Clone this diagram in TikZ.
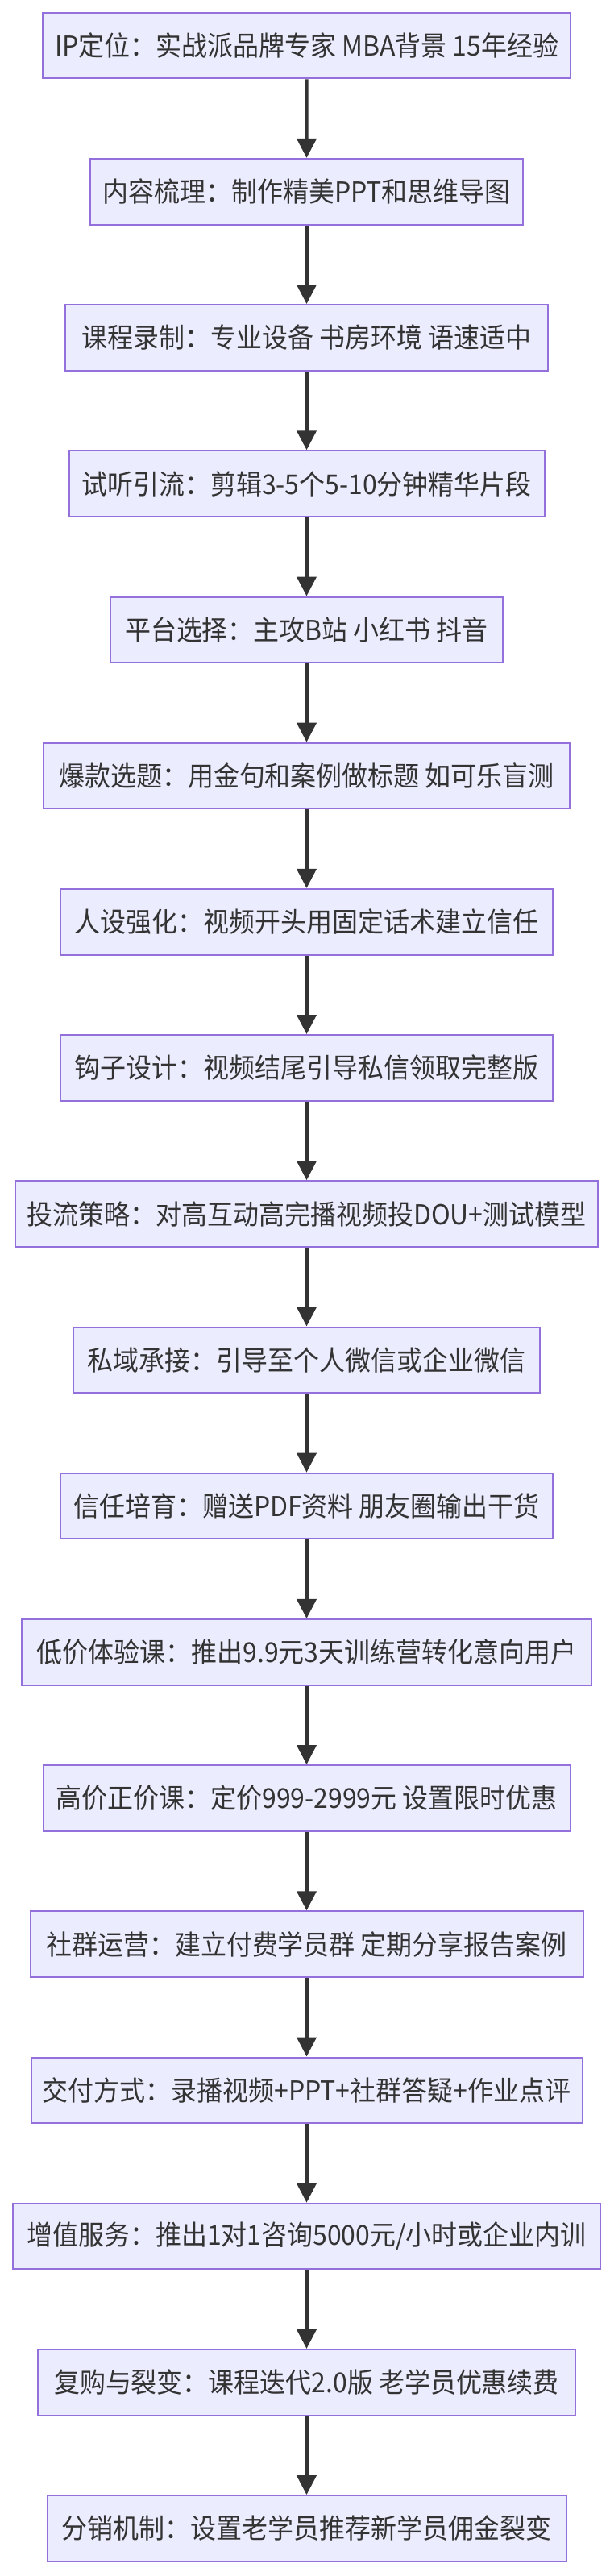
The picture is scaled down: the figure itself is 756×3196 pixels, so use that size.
\documentclass[tikz,border=0pt]{standalone}
\usepackage{fontspec}
\newfontfamily\cjk[FakeStretch=0.94]{Noto Sans CJK SC}
\usetikzlibrary{arrows.meta}
\definecolor{boxfill}{HTML}{ECECFF}
\definecolor{boxline}{HTML}{9370DB}
\definecolor{ink}{HTML}{333333}
\tikzset{
  stepbox/.style={draw=boxline, fill=boxfill, line width=2pt, inner sep=0pt,
    minimum height=81.6pt, text=ink, font=\cjk\fontsize{34}{40}\selectfont, align=center},
  flow/.style={draw=ink, line width=4pt, -{Triangle[length=24pt,width=24pt]}}
}
\begin{document}
\begin{tikzpicture}[x=1pt,y=-1pt]
\useasboundingbox (0,0) rectangle (756,3196);
\node[stepbox, minimum width=655pt] (b1) at (380.7,56.5) {IP定位：实战派品牌专家 MBA背景 15年经验};
\node[stepbox, minimum width=537pt] (b2) at (380.5,237.7) {内容梳理：制作精美PPT和思维导图};
\node[stepbox, minimum width=599pt] (b3) at (380.5,418.9) {课程录制：专业设备 书房环境 语速适中};
\node[stepbox, minimum width=590pt] (b4) at (380.5,600.1) {试听引流：剪辑3-5个5-10分钟精华片段};
\node[stepbox, minimum width=487pt] (b5) at (380.5,781.3) {平台选择：主攻B站 小红书 抖音};
\node[stepbox, minimum width=653pt] (b6) at (380.5,962.5) {爆款选题：用金句和案例做标题 如可乐盲测};
\node[stepbox, minimum width=611pt] (b7) at (380.5,1143.7) {人设强化：视频开头用固定话术建立信任};
\node[stepbox, minimum width=611pt] (b8) at (380.5,1324.9) {钩子设计：视频结尾引导私信领取完整版};
\node[stepbox, minimum width=723pt] (b9) at (380.5,1506.1) {投流策略：对高互动高完播视频投DOU+测试模型};
\node[stepbox, minimum width=579pt] (b10) at (380.5,1687.3) {私域承接：引导至个人微信或企业微信};
\node[stepbox, minimum width=611pt] (b11) at (380.5,1868.5) {信任培育：赠送PDF资料 朋友圈输出干货};
\node[stepbox, minimum width=707pt] (b12) at (380.5,2049.7) {低价体验课：推出9.9元3天训练营转化意向用户};
\node[stepbox, minimum width=654pt] (b13) at (380.5,2230.9) {高价正价课：定价999-2999元 设置限时优惠};
\node[stepbox, minimum width=686pt] (b14) at (380.5,2412.1) {社群运营：建立付费学员群 定期分享报告案例};
\node[stepbox, minimum width=684pt] (b15) at (380.5,2593.3) {交付方式：录播视频+PPT+社群答疑+作业点评};
\node[stepbox, minimum width=729pt] (b16) at (380.5,2774.5) {增值服务：推出1对1咨询5000元/小时或企业内训};
\node[stepbox, minimum width=667pt] (b17) at (380.5,2955.7) {复购与裂变：课程迭代2.0版 老学员优惠续费};
\node[stepbox, minimum width=644pt] (b18) at (380.5,3136.9) {分销机制：设置老学员推荐新学员佣金裂变};
\foreach \a/\b in {b1/b2,b2/b3,b3/b4,b4/b5,b5/b6,b6/b7,b7/b8,b8/b9,b9/b10,b10/b11,b11/b12,b12/b13,b13/b14,b14/b15,b15/b16,b16/b17,b17/b18}
  \draw[flow] (\a.south) -- (\b.north);
\end{tikzpicture}
\end{document}
